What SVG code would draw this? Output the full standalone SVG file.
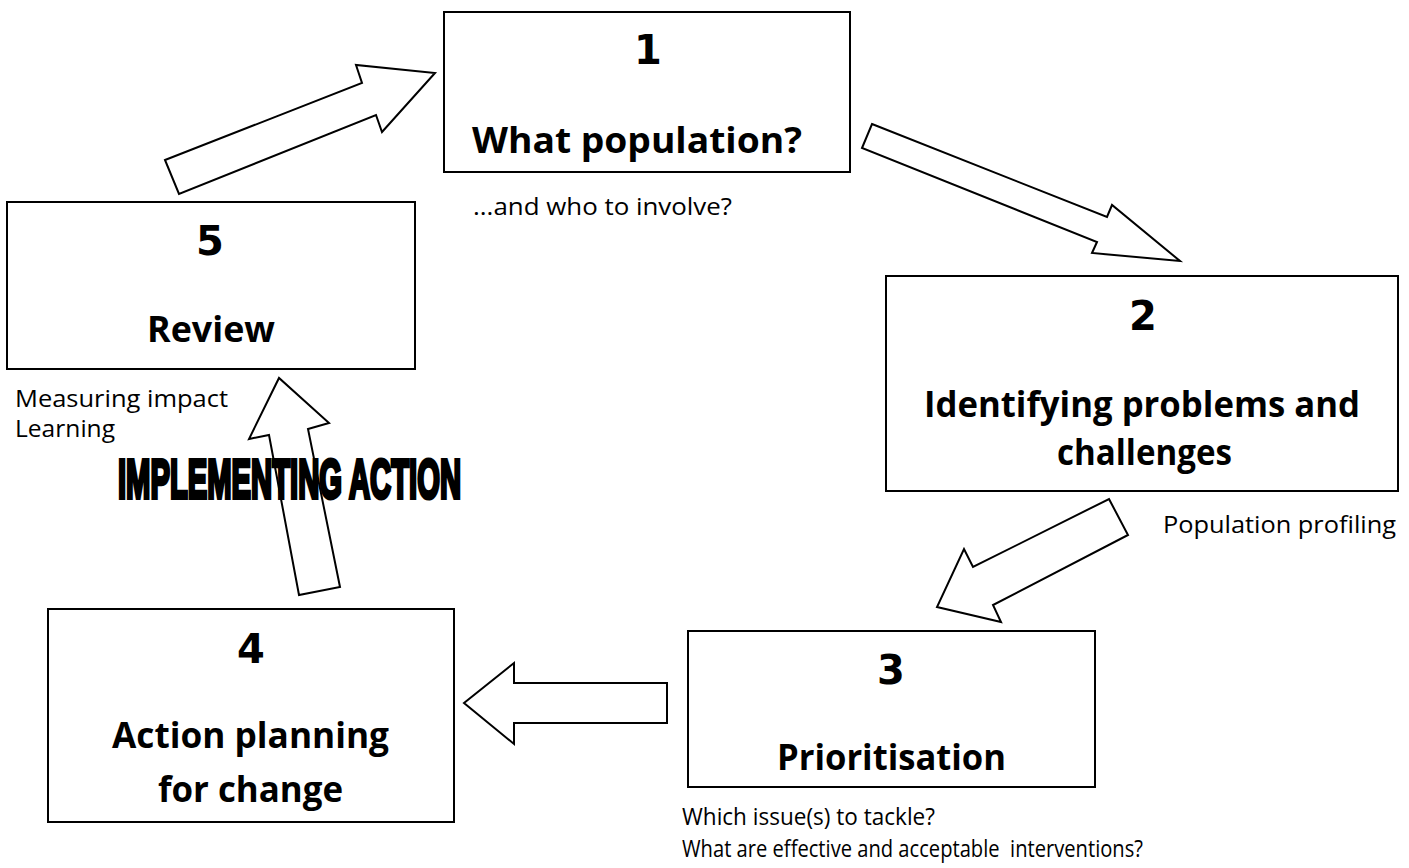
<svg xmlns="http://www.w3.org/2000/svg" width="1409" height="868" viewBox="0 0 1409 868">
<style>
.box{fill:#fff;stroke:#000;stroke-width:2}
.arr{fill:#fff;stroke:#000;stroke-width:2;stroke-linejoin:miter}
.num{font-family:"DejaVu Sans",Verdana,sans-serif;font-weight:bold;font-size:40px;fill:#000;text-anchor:middle}
.head{font-family:"Open Sans","Noto Sans",sans-serif;font-weight:bold;font-size:35px;fill:#000;font-variant-ligatures:none}
.lab{font-family:"Open Sans","Noto Sans",sans-serif;font-size:23px;fill:#000;font-variant-ligatures:none}
.impl{font-family:"Liberation Sans",Arial,sans-serif;font-weight:bold;font-size:55px;fill:#000;stroke:#000;stroke-width:4;stroke-linejoin:miter}
</style>
<rect width="1409" height="868" fill="#fff"/>
<g id="connectors">
<polygon class="arr" points="165,160 362,83 356,65 435,73 382,132 376,115 179,194"/>
<polygon class="arr" points="872,124 1107,217 1112,205 1180,261 1092,253 1097,242 862,148"/>
<polygon class="arr" points="1109,499 1128,535 993,605 1001,622 937,607 964,549 973,567"/>
<polygon class="arr" points="667,683 514,683 514,663 464,703 514,744 514,723 667,723"/>
<polygon class="arr" points="299,595 269,435 249,439 279,378 329,423 308,429 340,587"/>
</g>
<g id="node1">
<rect class="box" x="444" y="12" width="406" height="160"/>
<text class="num" x="648" y="64">1</text>
<text class="head" x="472" y="153" textLength="330" lengthAdjust="spacingAndGlyphs">What population?</text>
<text class="lab" x="473" y="215" textLength="259" lengthAdjust="spacingAndGlyphs">...and who to involve?</text>
</g>
<g id="node2">
<rect class="box" x="886" y="276" width="512" height="215"/>
<text class="num" x="1143" y="330">2</text>
<text class="head" x="924" y="417" textLength="436" lengthAdjust="spacingAndGlyphs">Identifying problems and</text>
<text class="head" x="1057" y="465" textLength="175" lengthAdjust="spacingAndGlyphs">challenges</text>
<text class="lab" x="1163" y="533" textLength="233" lengthAdjust="spacingAndGlyphs">Population profiling</text>
</g>
<g id="node3">
<rect class="box" x="688" y="631" width="407" height="156"/>
<text class="num" x="891" y="684">3</text>
<text class="head" x="777" y="770" textLength="229" lengthAdjust="spacingAndGlyphs">Prioritisation</text>
<text class="lab" x="682" y="825" textLength="253" lengthAdjust="spacingAndGlyphs">Which issue(s) to tackle?</text>
<text class="lab" x="682" y="857" textLength="461" lengthAdjust="spacingAndGlyphs" xml:space="preserve">What are effective and acceptable  interventions?</text>
</g>
<g id="node4">
<rect class="box" x="48" y="609" width="406" height="213"/>
<text class="num" x="251" y="663">4</text>
<text class="head" x="112" y="748" textLength="277" lengthAdjust="spacingAndGlyphs">Action planning</text>
<text class="head" x="158" y="802" textLength="185" lengthAdjust="spacingAndGlyphs">for change</text>
</g>
<g id="node5">
<rect class="box" x="7" y="202" width="408" height="167"/>
<text class="num" x="210" y="255">5</text>
<text class="head" x="147" y="342" textLength="128" lengthAdjust="spacingAndGlyphs">Review</text>
<text class="lab" x="15" y="407" textLength="213" lengthAdjust="spacingAndGlyphs">Measuring impact</text>
<text class="lab" x="15" y="437" textLength="100" lengthAdjust="spacingAndGlyphs">Learning</text>
</g>
<g id="label-implementing">
<text class="impl" x="118" y="498" textLength="343" lengthAdjust="spacingAndGlyphs">IMPLEMENTING ACTION</text>
</g>
</svg>
